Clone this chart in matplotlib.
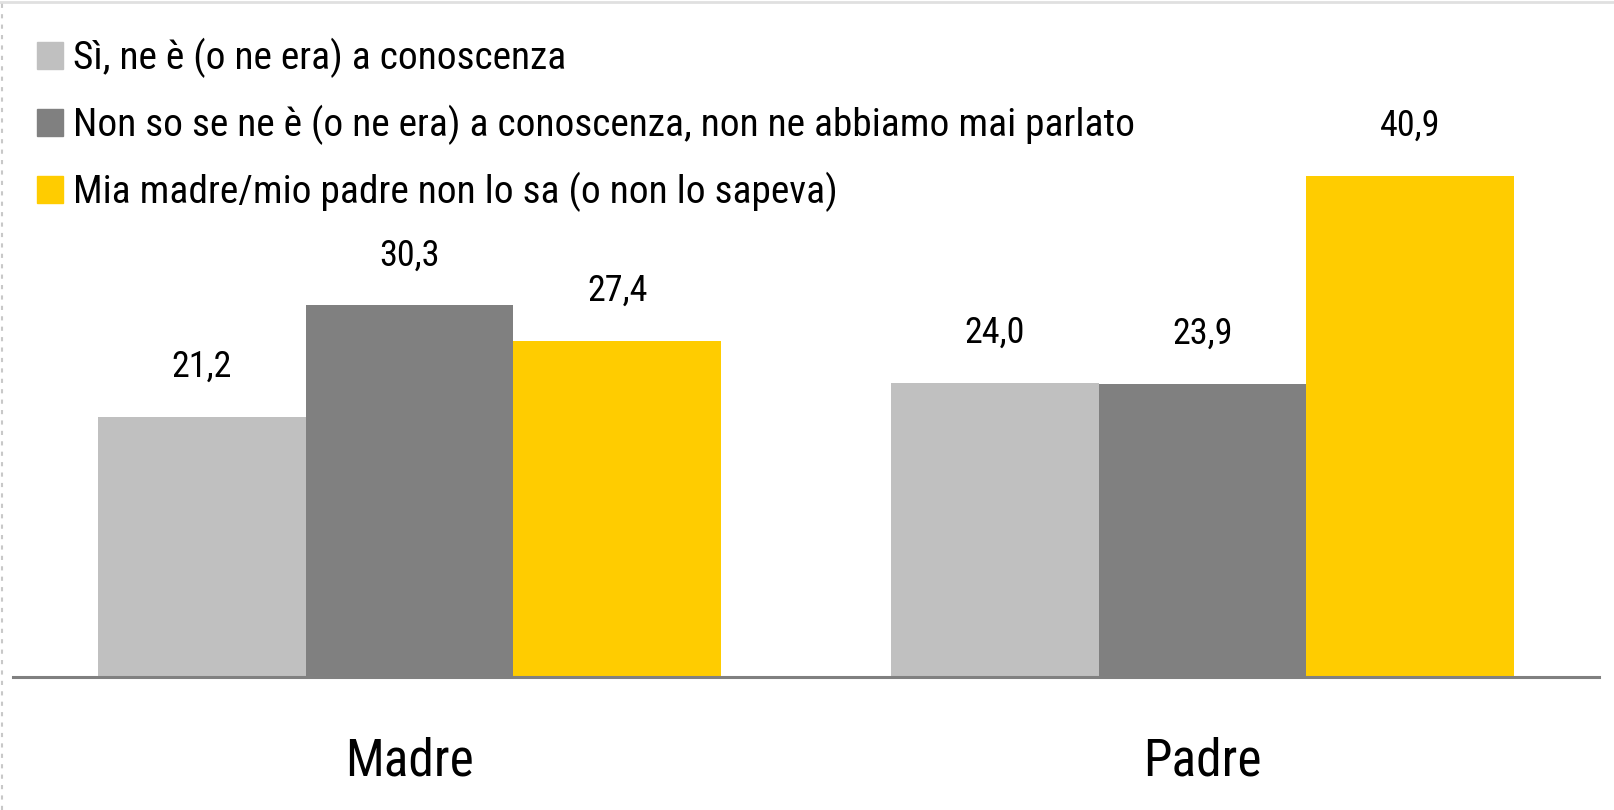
import numpy as np
import matplotlib.pyplot as plt
from matplotlib.lines import Line2D

# Data
categories = ["Madre", "Padre"]
series_labels = [
    "Sì, ne è (o ne era) a conoscenza",
    "Non so se ne è (o ne era) a conoscenza, non ne abbiamo mai parlato",
    "Mia madre/mio padre non lo sa (o non lo sapeva)",
]
values = [
    [21.2, 24.0],
    [30.3, 23.9],
    [27.4, 40.9],
]
colors = ["#c0c0c0", "#808080", "#ffcc00"]

plt.rcParams["font.family"] = ["Roboto Condensed", "Liberation Sans", "DejaVu Sans"]

fig = plt.figure(figsize=(16.14, 8.10), dpi=100)
ax = fig.add_axes([13 / 1614, 1 - 677 / 810, (1599 - 13) / 1614, (677 - 10) / 810])

x = np.arange(len(categories))
width = 0.262
for i, (lab, vals, col) in enumerate(zip(series_labels, values, colors)):
    pos = x + (i - 1) * width
    bars = ax.bar(pos, vals, width, color=col, label=lab, zorder=2)
    for b, v in zip(bars, vals):
        ax.annotate(f"{v:.1f}".replace(".", ","),
                    (b.get_x() + b.get_width() / 2, b.get_height()),
                    xytext=(0, 36), textcoords="offset points",
                    ha="center", va="center", fontsize=26)

ax.set_xlim(-0.5, 1.5)
ax.set_ylim(0, 54.4)
ax.set_yticks([])
ax.set_xticks(x)
ax.set_xticklabels(categories, fontsize=37)
ax.tick_params(axis="x", length=0, pad=43)
for s in ["top", "right", "left"]:
    ax.spines[s].set_visible(False)
ax.spines["bottom"].set_color("#808080")
ax.spines["bottom"].set_linewidth(2.2)

handles = [plt.Rectangle((0, 0), 1, 1, color=c) for c in colors]
ax.legend(handles, series_labels, loc="upper left", bbox_to_anchor=(-0.0025, 1.0),
          frameon=False, fontsize=28.4, handlelength=0.68, handleheight=0.68,
          handletextpad=0.25, labelspacing=0.68, borderaxespad=0.3)

# frame decorations
fig.add_artist(Line2D([0, 1], [0.998, 0.998], color="#e0e0e0", lw=2, transform=fig.transFigure))
fig.add_artist(Line2D([0.0015, 0.0015], [0, 1], color="#c8c8c8", lw=1.5, ls=(0, (2, 3)), transform=fig.transFigure))

fig.savefig("out.png", dpi=100)
